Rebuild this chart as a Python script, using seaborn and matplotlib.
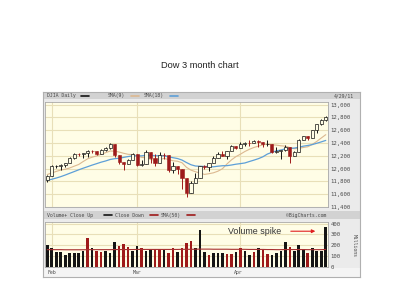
import matplotlib
matplotlib.use("Agg")
import matplotlib.pyplot as plt
import numpy as np
import pandas as pd
import seaborn as sns
from matplotlib.patches import Rectangle

# ---------------- data ----------------
dates = ["01-31", "02-01", "02-02", "02-03", "02-04", "02-07", "02-08", "02-09", "02-10", "02-11",
         "02-14", "02-15", "02-16", "02-17", "02-18", "02-22", "02-23", "02-24", "02-25", "02-28",
         "03-01", "03-02", "03-03", "03-04", "03-07", "03-08", "03-09", "03-10", "03-11", "03-14",
         "03-15", "03-16", "03-17", "03-18", "03-21", "03-22", "03-23", "03-24", "03-25", "03-28",
         "03-29", "03-30", "03-31", "04-01", "04-04", "04-05", "04-06", "04-07", "04-08", "04-11",
         "04-12", "04-13", "04-14", "04-15", "04-18", "04-19", "04-20", "04-21", "04-25", "04-26",
         "04-27", "04-28", "04-29"]
opens = [11824, 11892, 12040, 12040, 12062, 12092, 12162, 12234, 12229, 12240,
         12273, 12268, 12227, 12288, 12318, 12389, 12212, 12105, 12068, 12130,
         12226, 12058, 12068, 12258, 12170, 12090, 12214, 12211, 11984, 12043,
         11988, 11854, 11614, 11777, 11860, 12036, 12018, 12086, 12171, 12221,
         12198, 12280, 12350, 12320, 12377, 12400, 12393, 12426, 12409, 12381,
         12381, 12263, 12270, 12285, 12341, 12201, 12266, 12453, 12505, 12480,
         12595, 12691, 12764]
highs = [11900, 12050, 12055, 12070, 12095, 12185, 12240, 12250, 12250, 12285,
         12290, 12270, 12300, 12330, 12400, 12390, 12220, 12110, 12150, 12250,
         12230, 12130, 12285, 12260, 12222, 12260, 12250, 12212, 12100, 12043,
         11990, 11854, 11800, 11925, 12040, 12050, 12087, 12190, 12260, 12270,
         12282, 12375, 12352, 12420, 12419, 12440, 12450, 12440, 12420, 12440,
         12381, 12330, 12290, 12370, 12341, 12270, 12460, 12510, 12510, 12600,
         12700, 12780, 12820]
lows = [11792, 11892, 12010, 11980, 12030, 12092, 12150, 12200, 12160, 12180,
        12240, 12210, 12227, 12270, 12300, 12176, 12070, 11983, 12068, 12130,
        12040, 12040, 12068, 12086, 12036, 12090, 12150, 11947, 11936, 11915,
        11688, 11555, 11614, 11777, 11860, 11995, 11960, 12086, 12171, 12190,
        12150, 12280, 12300, 12320, 12360, 12360, 12393, 12340, 12330, 12360,
        12240, 12240, 12150, 12270, 12093, 12200, 12266, 12453, 12450, 12480,
        12560, 12680, 12740]
closes = [11892, 12040, 12042, 12062, 12092, 12162, 12234, 12229, 12240, 12273,
          12268, 12227, 12288, 12318, 12391, 12213, 12106, 12068, 12130, 12226,
          12058, 12066, 12258, 12170, 12090, 12214, 12213, 11985, 12044, 11993,
          11855, 11613, 11775, 11859, 12037, 12018, 12086, 12171, 12221, 12198,
          12280, 12350, 12320, 12377, 12400, 12393, 12426, 12409, 12380, 12381,
          12263, 12270, 12285, 12342, 12202, 12266, 12453, 12505, 12480, 12595,
          12691, 12764, 12811]
# closes before the window, needed for the moving averages at the left edge
prior_closes = [11723, 11697, 11675, 11637, 11671, 11755, 11732, 11787, 11837,
                11825, 11823, 11872, 11980, 11977, 11985, 11990, 11824]
volumes = [200, 173, 140, 140, 115, 127, 127, 127, 150, 264,
           179, 145, 140, 145, 130, 227, 194, 209, 185, 145,
           197, 179, 145, 155, 164, 167, 160, 127, 173, 140,
           173, 218, 242, 179, 345, 140, 115, 130, 130, 127,
           118, 124, 140, 176, 145, 115, 136, 176, 160, 118,
           109, 133, 145, 227, 185, 145, 200, 164, 127, 179,
           150, 145, 367]
vol_dir = list("bbbbbbbbbrbrrbbbrrrbbrbbrrbrrbrrrbbbrbbbrrbrbbrbrrbbbbrbbbrbbbb")
vol_sma50 = [160, 160, 160, 160, 159, 159, 159, 159, 159, 160,
             160, 160, 160, 160, 160, 161, 161, 161, 161, 161,
             162, 162, 162, 162, 162, 162, 162, 162, 162, 162,
             163, 163, 163, 164, 165, 165, 165, 164, 164, 164,
             164, 163, 163, 163, 163, 162, 162, 162, 162, 161,
             161, 160, 160, 161, 161, 161, 161, 161, 160, 160,
             160, 160, 162]
price_ticks = [11400, 11600, 11800, 12000, 12200, 12400, 12600, 12800, 13000]
vol_ticks = [0, 100, 200, 300, 400]
month_labels = ["Feb", "Mar", "Apr"]
month_starts = [1, 20, 43]

# ---------------- styling ----------------
sns.set_theme(style="white")
plt.rcParams['font.family'] = ['DejaVu Sans']

RED = "#9e1a1a"
BLK = "#151515"
FACE = "#fffde6"
GRID = "#e8dfb8"
TAN = "#dcb890"
BLUE = "#5d9fd8"
WIDGET = "#ebebeb"
HEADER = "#d2d2d2"
TXT = "#4a4a4a"

fig = plt.figure(figsize=(4, 3), dpi=100)
fig.patch.set_facecolor("white")


def rect(x0, y0, x1, y1):
    return [x0 / 400, 1 - y1 / 300, (x1 - x0) / 400, (y1 - y0) / 300]


# background widget axes in pixel coordinates
bg = fig.add_axes(rect(43, 92, 360, 277))
bg.set_xlim(43, 360)
bg.set_ylim(277, 92)
bg.set_facecolor(WIDGET)
for s in bg.spines.values():
    s.set_color("#b0b0b0")
    s.set_linewidth(0.8)
bg.set_xticks([])
bg.set_yticks([])
bg.add_patch(Rectangle((43, 92), 317, 7, color=HEADER, lw=0))
bg.add_patch(Rectangle((43, 211), 317, 8, color=HEADER, lw=0))
bg.add_patch(Rectangle((43, 268), 317, 9, color="#f4f4f4", lw=0))

hdr_fs = 3.5
mono = dict(family="DejaVu Sans Mono", fontsize=hdr_fs, color=TXT, va="center")
bg.text(47, 95.7, "DJIA Daily", **mono)
bg.plot([81, 89], [95.7, 95.7], color=BLK, lw=1.2)
bg.text(108, 95.7, "SMA(9)", **mono)
bg.plot([131, 139], [95.7, 95.7], color=TAN, lw=1.2)
bg.text(144, 95.7, "SMA(18)", **mono)
bg.plot([170, 178], [95.7, 95.7], color=BLUE, lw=1.2)
bg.text(354, 95.7, "4/29/11", ha="right", **mono)

bg.text(47, 215.2, "Volume+ Close Up", **mono)
bg.plot([104, 112], [215.2, 215.2], color=BLK, lw=1.2)
bg.text(115, 215.2, "Close Down", **mono)
bg.plot([150, 158], [215.2, 215.2], color=RED, lw=1.2)
bg.text(161, 215.2, "SMA(50)", **mono)
bg.plot([187, 195], [215.2, 215.2], color=RED, lw=1.2)
bg.text(326, 215.2, "\u00a9BigCharts.com", ha="right", **mono)

for lbl, xp in zip(month_labels, [47, 133, 234]):
    bg.text(xp, 272.3, lbl, **mono)
bg.text(354, 246, "Millions", rotation=270, ha="center", **mono)

x = np.arange(len(closes))

# ---------------- price panel ----------------
ax = fig.add_axes(rect(45, 102, 328, 207))
ax.set_facecolor(FACE)
ax.set_xlim(-0.5, len(closes) - 0.5)
ax.set_ylim(11400, 13040)
for t in price_ticks:
    ax.axhline(t, color=GRID, lw=0.8, zorder=0)
for m in month_starts:
    ax.axvline(m, color=GRID, lw=0.8, zorder=0)

all_c = pd.Series(prior_closes + closes, dtype=float)
n0 = len(prior_closes)
df = pd.DataFrame({
    "x": x,
    "sma9": all_c.rolling(9).mean().iloc[n0:].values,
    "sma18": all_c.rolling(18).mean().iloc[n0:].values,
})
sns.lineplot(data=df, x="x", y="sma9", ax=ax, color=TAN, lw=0.8, zorder=2)
sns.lineplot(data=df, x="x", y="sma18", ax=ax, color=BLUE, lw=0.9, zorder=2)

o = np.array(opens, float)
c = np.array(closes, float)
h = np.array(highs, float)
l = np.array(lows, float)
down = c < o
cols = np.where(down, RED, BLK)
ax.vlines(x, l, h, colors=cols, lw=0.7, zorder=3)
body_bot = np.minimum(o, c)
body_h = np.maximum(np.abs(c - o), 6)
ax.bar(x[down], body_h[down], bottom=body_bot[down], width=0.7,
       color=RED, edgecolor=RED, lw=0.4, zorder=4)
ax.bar(x[~down], body_h[~down], bottom=body_bot[~down], width=0.7,
       color=FACE, edgecolor=BLK, lw=0.5, zorder=4)

ax.yaxis.tick_right()
ax.set_yticks(price_ticks)
ax.set_yticklabels([f"{t:,}" for t in price_ticks])
ax.tick_params(axis="y", length=0, pad=2, labelsize=4.1, labelcolor=TXT)
for lab in ax.get_yticklabels():
    lab.set_family("DejaVu Sans Mono")
ax.set_xticks([])
ax.set_xlabel("")
ax.set_ylabel("")
for s in ax.spines.values():
    s.set_color("#a8a8a8")
    s.set_linewidth(0.6)

# ---------------- volume panel ----------------
av = fig.add_axes(rect(45, 222, 328, 267))
av.set_facecolor(FACE)
av.set_xlim(-0.5, len(closes) - 0.5)
av.set_ylim(0, 415)
for t in vol_ticks[1:]:
    av.axhline(t, color=GRID, lw=0.8, zorder=0)
for m in month_starts:
    av.axvline(m, color=GRID, lw=0.8, zorder=0)
vcols = [BLK if d == "b" else RED for d in vol_dir]
av.bar(x, volumes, width=0.58, color=vcols, lw=0, zorder=2)
vdf = pd.DataFrame({"x": x, "sma50": vol_sma50})
sns.lineplot(data=vdf, x="x", y="sma50", ax=av, color="#a83030", lw=0.8, zorder=3)
av.yaxis.tick_right()
av.set_yticks(vol_ticks)
av.tick_params(axis="y", length=0, pad=2, labelsize=4.1, labelcolor=TXT)
for lab in av.get_yticklabels():
    lab.set_family("DejaVu Sans Mono")
av.set_xticks([])
av.set_xlabel("")
av.set_ylabel("")
for s in av.spines.values():
    s.set_color("#a8a8a8")
    s.set_linewidth(0.6)

av.text(52.2, 330, "Volume spike", fontsize=6.4, family="Liberation Sans",
        color="#333333", ha="right", va="center")
av.annotate("", xy=(60.3, 330), xytext=(53.6, 330),
            arrowprops=dict(arrowstyle="-|>", color="#e02020", lw=0.8,
                            mutation_scale=5))

# ---------------- title ----------------
fig.text(0.5, 1 - 65 / 300, "Dow 3 month chart", ha="center", va="center",
         fontsize=6.7, family="Liberation Sans", color="#222222")

fig.savefig("out.png", dpi=100, facecolor="white")
